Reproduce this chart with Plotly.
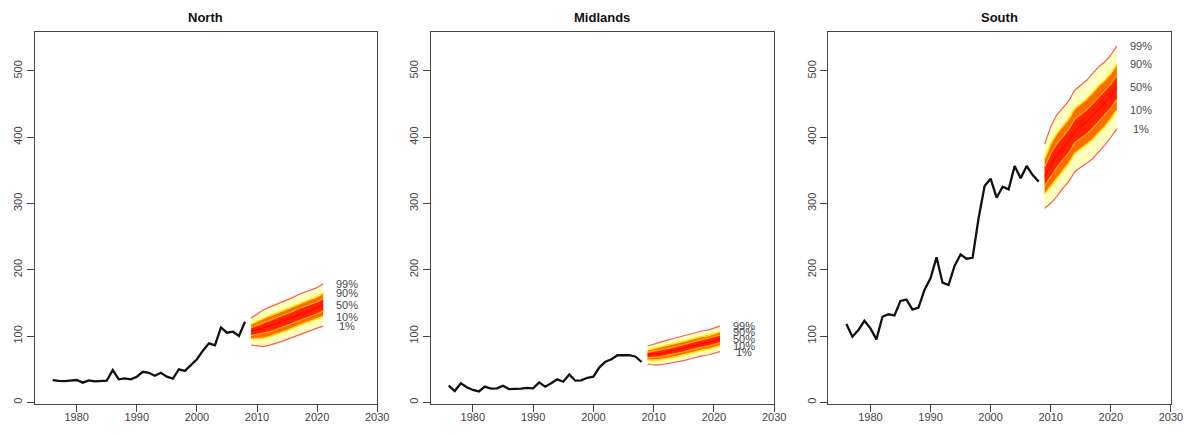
import plotly.graph_objects as go

# ---------------- data ----------------
regions = ["North", "Midlands", "South"]
obs_years = list(range(1976, 2009))

north_obs = [33.6, 32.2, 32.0, 32.5, 33.6, 29.6, 33.0, 31.6, 32.0, 32.5, 48.7, 34.6, 36.0,
             34.6, 38.6, 46.0, 44.5, 40.0, 44.5, 38.6, 35.6, 49.8, 47.3, 56.3, 64.9, 77.9,
             89.0, 86.0, 113.0, 105.0, 106.5, 100.0, 121.6]
midlands_obs = [25.0, 17.0, 28.6, 22.6, 18.6, 16.3, 23.6, 20.6, 21.0, 25.0, 20.0, 20.0, 20.6,
                21.6, 21.0, 30.0, 23.6, 28.6, 34.6, 31.0, 42.0, 32.6, 33.0, 37.0, 38.6, 52.8,
                61.3, 65.0, 71.0, 71.0, 71.0, 68.8, 60.8]
south_obs = [118.0, 99.0, 109.0, 123.0, 111.6, 95.0, 129.0, 132.8, 131.0, 153.0, 155.0, 140.0,
             143.0, 169.5, 187.0, 218.8, 180.5, 177.0, 205.7, 223.0, 216.7, 218.0, 277.7, 326.4,
             337.5, 308.8, 325.4, 321.4, 356.6, 338.0, 356.6, 343.0, 333.0]

fan_years = list(range(2009, 2022))

north_q01 = [86.5, 85.4, 84.0, 85.9, 88.5, 91.5, 95.0, 98.5, 102.6, 106.0, 109.0, 112.0, 115.0]
north_q10 = [95.6, 96.1, 96.4, 98.8, 101.6, 104.8, 108.3, 112.0, 116.2, 119.5, 122.6, 125.7, 129.4]
north_q25 = [100.8, 102.3, 103.7, 106.3, 109.2, 112.6, 116.1, 119.8, 124.0, 127.3, 130.5, 133.7, 137.7]
north_q50 = [106.7, 109.2, 111.7, 114.6, 117.7, 121.2, 124.7, 128.5, 132.8, 136.0, 139.3, 142.5, 147.0]
north_q75 = [112.6, 116.1, 119.7, 122.9, 126.2, 129.8, 133.3, 137.2, 141.6, 144.7, 148.1, 151.3, 156.3]
north_q90 = [117.8, 122.3, 127.0, 130.4, 133.8, 137.6, 141.1, 145.0, 149.4, 152.5, 156.0, 159.3, 164.6]
north_q99 = [126.8, 133.0, 139.3, 143.3, 146.8, 150.9, 154.4, 158.4, 163.0, 166.0, 169.5, 173.0, 179.0]

midlands_q01 = [57.8, 56.3, 56.3, 57.8, 58.8, 60.8, 62.8, 65.3, 67.8, 69.9, 71.4, 73.9, 76.5]
midlands_q10 = [63.9, 63.4, 64.0, 65.7, 67.1, 69.2, 71.3, 73.8, 76.3, 78.4, 79.8, 82.4, 85.2]
midlands_q25 = [67.5, 67.6, 68.4, 70.3, 71.9, 74.0, 76.2, 78.7, 81.2, 83.3, 84.7, 87.3, 90.2]
midlands_q50 = [71.4, 72.2, 73.4, 75.4, 77.2, 79.4, 81.7, 84.2, 86.7, 88.8, 90.2, 92.8, 95.8]
midlands_q75 = [75.3, 76.8, 78.4, 80.5, 82.5, 84.8, 87.2, 89.7, 92.2, 94.3, 95.7, 98.3, 101.4]
midlands_q90 = [78.9, 81.0, 82.8, 85.1, 87.3, 89.6, 92.1, 94.6, 97.1, 99.2, 100.6, 103.2, 106.4]
midlands_q99 = [85.0, 88.0, 90.5, 93.0, 95.5, 98.0, 100.5, 103.0, 105.5, 107.6, 109.0, 111.6, 115.0]

south_q01 = [292.8, 300.3, 310.3, 322.8, 333.0, 348.0, 354.6, 360.6, 368.0, 378.0, 388.0, 400.0, 412.5]
south_q10 = [314.5, 326.3, 338.0, 349.9, 360.4, 375.6, 382.5, 388.8, 396.8, 406.9, 416.3, 427.8, 440.7]
south_q25 = [327.1, 341.4, 354.0, 365.7, 376.3, 391.7, 398.7, 405.1, 413.6, 423.7, 432.7, 444.0, 457.1]
south_q50 = [341.1, 358.2, 371.9, 383.2, 394.0, 409.5, 416.7, 423.3, 432.2, 442.3, 451.0, 462.0, 475.3]
south_q75 = [355.1, 375.0, 389.8, 400.7, 411.7, 427.3, 434.7, 441.5, 450.8, 460.9, 469.3, 480.0, 493.5]
south_q90 = [367.7, 390.1, 405.8, 416.5, 427.6, 443.4, 450.9, 457.8, 467.6, 477.7, 485.7, 496.2, 509.9]
south_q99 = [389.4, 416.0, 433.5, 443.6, 455.0, 471.0, 478.8, 486.0, 496.4, 506.5, 514.0, 524.0, 538.0]

label_texts = ["99%", "90%", "50%", "10%", "1%"]
x_ticks = [1980, 1990, 2000, 2010, 2020, 2030]
y_ticks = [0, 100, 200, 300, 400, 500]

# ---------------- figure ----------------
W, H = 1202, 435
panel_px = [(35, 381), (435, 782), (836.7, 1182.7)]
top_px, bot_px = 32.3, 404

fig = go.Figure()

obs_all = [north_obs, midlands_obs, south_obs]
fans = [
    (north_q01, north_q10, north_q25, north_q50, north_q75, north_q90, north_q99),
    (midlands_q01, midlands_q10, midlands_q25, midlands_q50, midlands_q75, midlands_q90, midlands_q99),
    (south_q01, south_q10, south_q25, south_q50, south_q75, south_q90, south_q99),
]

font_fam = "Liberation Sans, Arial, sans-serif"
annotations = []

for i, name in enumerate(regions):
    sfx = "" if i == 0 else str(i + 1)
    xa, ya = "x" + sfx, "y" + sfx
    q01, q10, q25, q50, q75, q90, q99 = fans[i]

    def band(lo, hi, color):
        fig.add_trace(go.Scatter(
            x=fan_years + fan_years[::-1], y=hi + lo[::-1], fill="toself",
            fillcolor=color, line=dict(width=0), mode="lines",
            hoverinfo="skip", showlegend=False, xaxis=xa, yaxis=ya))

    def qline(vals, color, width):
        fig.add_trace(go.Scatter(
            x=fan_years, y=vals, mode="lines", line=dict(color=color, width=width),
            hoverinfo="skip", showlegend=False, xaxis=xa, yaxis=ya))

    band(q01, q99, "#FFFFBE")
    band(q10, q90, "#FF6A00")
    band(q25, q75, "#FF2200")
    qline(q50, "#FF0000", 1.0)
    qline(q25, "#FFB000", 1.2)
    qline(q75, "#FFB000", 1.2)
    qline(q10, "#FFE800", 1.6)
    qline(q90, "#FFE800", 1.6)
    qline(q01, "#FF5A5A", 1.2)
    qline(q99, "#FF5A5A", 1.2)

    fig.add_trace(go.Scatter(
        x=obs_years, y=obs_all[i], mode="lines",
        line=dict(color="#111111", width=2.3),
        showlegend=False, xaxis=xa, yaxis=ya))

    # percentile labels at the right of the fan
    for txt, v in zip(label_texts, [q99[-1], q90[-1], q50[-1], q10[-1], q01[-1]]):
        annotations.append(dict(
            x=2025, y=v, xref=xa, yref=ya, text=txt, showarrow=False,
            xanchor="center", yanchor="middle",
            font=dict(family=font_fam, size=11, color="#4a4a4a")))

    x0, x1 = panel_px[i]
    annotations.append(dict(
        x=(x0 + x1) / 2 / W, y=1 - 18 / H, xref="paper", yref="paper",
        text="<b>" + name + "</b>", showarrow=False, xanchor="center", yanchor="middle",
        font=dict(family=font_fam, size=13, color="#111111")))

    fig.update_layout(**{
        "xaxis" + sfx: dict(
            domain=[x0 / W, x1 / W], range=[1973, 2030], anchor=ya,
            tickvals=x_ticks, ticks="outside", ticklen=7, tickcolor="#444444",
            ticklabelstandoff=-4,
            showline=True, linecolor="#444444", linewidth=1, mirror=True,
            showgrid=False, zeroline=False,
            tickfont=dict(family=font_fam, size=11, color="#444444")),
        "yaxis" + sfx: dict(
            domain=[1 - bot_px / H, 1 - top_px / H], range=[-2.6, 558.4], anchor=xa,
            tickvals=y_ticks, ticks="outside", ticklen=7, tickcolor="#444444",
            tickangle=-90,
            showline=True, linecolor="#444444", linewidth=1, mirror=True,
            showgrid=False, zeroline=False,
            tickfont=dict(family=font_fam, size=11, color="#444444")),
    })

fig.update_layout(
    width=W, height=H, margin=dict(l=0, r=0, t=0, b=0),
    paper_bgcolor="white", plot_bgcolor="white",
    annotations=annotations, showlegend=False)

fig.write_html("out.html")
